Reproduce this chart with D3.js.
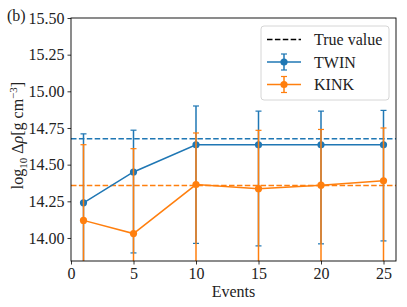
<!DOCTYPE html>
<html lang="en">
<head>
<meta charset="UTF-8">
<title>Events vs log density</title>
<script src="https://d3js.org/d3.v7.min.js"></script>
<style>
  body { margin: 0; background: #fff; }
  svg { display: block; font-family: "Liberation Serif", "DejaVu Serif", serif; }
</style>
</head>
<body>
<svg width="407" height="307"></svg>
<script>
// data
const events = [1, 5, 10, 15, 20, 25];
const twinMean  = [14.24, 14.45, 14.635, 14.635, 14.635, 14.635];
const twinUpper = [14.71, 14.735, 14.90, 14.865, 14.865, 14.87];
const twinLower = [13.77, 13.898, 13.963, 13.946, 13.96, 13.98];
const kinkMean  = [14.12, 14.03, 14.364, 14.336, 14.36, 14.39];
const kinkUpper = [14.636, 14.609, 14.716, 14.734, 14.74, 14.75];
const kinkLower = [13.6, 13.45, 13.6, 13.6, 13.6, 13.6];
const trueTwin = 14.677;
const trueKink = 14.357;
const xTicks = [0, 5, 10, 15, 20, 25];
const yTicks = [14.00, 14.25, 14.50, 14.75, 15.00, 15.25, 15.50];

const svg = d3.select("svg");
const mLeft = 71, mRight = 396, mTop = 18, mBottom = 261;
const fs = 16;

const x = d3.scaleLinear().domain([0, 26]).range([mLeft, mRight]);
const y = d3.scaleLinear().domain([13.843, 15.5]).range([mBottom, mTop]);

const blue = "#1f77b4", orange = "#ff7f0e";

svg.append("defs").append("clipPath").attr("id", "clip")
  .append("rect").attr("x", mLeft).attr("y", mTop)
  .attr("width", mRight - mLeft).attr("height", mBottom - mTop);

const plot = svg.append("g").attr("clip-path", "url(#clip)");

// true value lines
[[trueTwin, blue], [trueKink, orange]].forEach(([v, c]) => {
  plot.append("line")
    .attr("x1", mLeft).attr("x2", mRight)
    .attr("y1", y(v)).attr("y2", y(v))
    .attr("stroke", c).attr("stroke-width", 1.5)
    .attr("stroke-dasharray", "5.5,2.4");
});

function series(mean, lo, hi, color) {
  const g = plot.append("g");
  events.forEach((e, i) => {
    g.append("line")
      .attr("x1", x(e)).attr("x2", x(e))
      .attr("y1", y(lo[i])).attr("y2", y(hi[i]))
      .attr("stroke", color).attr("stroke-width", 1.5);
    [lo[i], hi[i]].forEach(v => {
      g.append("line")
        .attr("x1", x(e) - 3).attr("x2", x(e) + 3)
        .attr("y1", y(v)).attr("y2", y(v))
        .attr("stroke", color).attr("stroke-width", 1.2);
    });
  });
  g.append("path")
    .datum(mean)
    .attr("fill", "none").attr("stroke", color).attr("stroke-width", 1.5)
    .attr("d", d3.line().x((d, i) => x(events[i])).y(d => y(d)));
  g.selectAll("circle").data(mean).join("circle")
    .attr("cx", (d, i) => x(events[i])).attr("cy", d => y(d))
    .attr("r", 3.6).attr("fill", color);
}
series(twinMean, twinLower, twinUpper, blue);
series(kinkMean, kinkLower, kinkUpper, orange);

// axes
const xAxis = svg.append("g").attr("transform", `translate(0,${mBottom})`)
  .call(d3.axisBottom(x).tickValues(xTicks).tickSize(3.5).tickPadding(3).tickFormat(d3.format("d")));
const yAxis = svg.append("g").attr("transform", `translate(${mLeft},0)`)
  .call(d3.axisLeft(y).tickValues(yTicks).tickSize(3.5).tickPadding(3).tickFormat(d3.format(".2f")));
[xAxis, yAxis].forEach(a => {
  a.select(".domain").remove();
  a.selectAll("line").attr("stroke", "#000").attr("stroke-width", 0.8);
  a.selectAll("text").attr("font-size", fs).attr("fill", "#222")
    .attr("font-family", "Liberation Serif, serif");
});

svg.append("rect").attr("x", mLeft).attr("y", mTop)
  .attr("width", mRight - mLeft).attr("height", mBottom - mTop)
  .attr("fill", "none").attr("stroke", "#000").attr("stroke-width", 0.9);

// labels
svg.append("text").attr("x", (mLeft + mRight) / 2).attr("y", 297)
  .attr("text-anchor", "middle").attr("font-size", fs).attr("fill", "#222").text("Events");

const yl = svg.append("text")
  .attr("transform", `translate(23,${(mTop + mBottom) / 2 - 4}) rotate(-90)`)
  .attr("text-anchor", "middle").attr("font-size", fs).attr("fill", "#222");
yl.append("tspan").text("log");
yl.append("tspan").attr("font-size", 11).attr("dy", 4).text("10");
yl.append("tspan").attr("dy", -4).text(" Δ");
yl.append("tspan").attr("font-style", "italic").text("ρ");
yl.append("tspan").text("[g cm");
yl.append("tspan").attr("font-size", 11).attr("dy", -6).text("−3");
yl.append("tspan").attr("dy", 6).text("]");

svg.append("text").attr("x", 7).attr("y", 21).attr("font-size", fs).attr("fill", "#222").text("(b)");

// legend
const lg = svg.append("g").attr("transform", "translate(261,26)");
lg.append("rect").attr("width", 128).attr("height", 74).attr("rx", 3)
  .attr("fill", "#fff").attr("fill-opacity", 0.8)
  .attr("stroke", "#ccc").attr("stroke-width", 0.8);
const legendItems = [
  {label: "True value", color: "#000", dashed: true},
  {label: "TWIN", color: blue},
  {label: "KINK", color: orange}
];
legendItems.forEach((it, i) => {
  const cy = 13.5 + i * 22.5;
  const row = lg.append("g");
  row.append("line").attr("x1", 6).attr("x2", 40).attr("y1", cy).attr("y2", cy)
    .attr("stroke", it.color).attr("stroke-width", 1.5)
    .attr("stroke-dasharray", it.dashed ? "5.5,2.4" : null);
  if (!it.dashed) {
    row.append("line").attr("x1", 23).attr("x2", 23).attr("y1", cy - 8).attr("y2", cy + 8)
      .attr("stroke", it.color).attr("stroke-width", 1.5);
    [cy - 8, cy + 8].forEach(v => row.append("line")
      .attr("x1", 20).attr("x2", 26).attr("y1", v).attr("y2", v)
      .attr("stroke", it.color).attr("stroke-width", 1.2));
    row.append("circle").attr("cx", 23).attr("cy", cy).attr("r", 3.6).attr("fill", it.color);
  }
  row.append("text").attr("x", 53).attr("y", cy + 5.5)
    .attr("font-size", fs).attr("fill", "#222").text(it.label);
});
</script>
</body>
</html>
